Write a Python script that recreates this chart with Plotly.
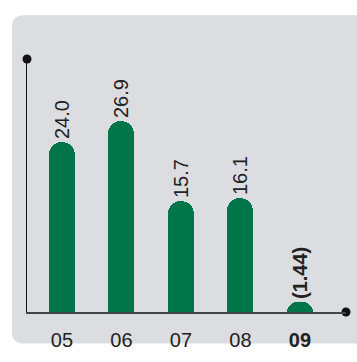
import plotly.graph_objects as go

years = ["05", "06", "07", "08", "09"]
tick_labels = ["05", "06", "07", "08", "<b>09</b>"]
values = [24.0, 26.9, 15.7, 16.1, 1.44]
value_labels = ["24.0", "26.9", "15.7", "16.1", "<b>(1.44)</b>"]

W, H = 357, 362
L, R, T, B = 27, 11, 59, 37
PW, PH = W - L - R, H - T - B

x_pos = list(range(len(years)))
x_min = -0.588
x_max = x_min + PW / 59.5
y_max = 35.7

GREEN = "#00754a"
PANEL = "#dcdde0"

fig = go.Figure()
fig.add_trace(go.Bar(
    x=x_pos, y=values, width=26 / 59.5,
    marker=dict(color=GREEN, cornerradius=13, line=dict(width=0)),
    text=value_labels, textposition="outside", textangle=-90,
    constraintext="none", cliponaxis=False,
    textfont=dict(family="Liberation Sans, Arial, sans-serif", size=20, color="#222"),
    hoverinfo="skip",
))
# axis end dots
fig.add_trace(go.Scatter(
    x=[x_min, x_max], y=[y_max, 0], mode="markers",
    marker=dict(color="#111", size=9), cliponaxis=False, hoverinfo="skip",
))

def px2paper(px, py):
    return (px - L) / PW, (H - B - py) / PH

x0, y0 = 12, 13
x1, y1 = 370, 358
r = 12
def P(x, y):
    a, b = px2paper(x, y)
    return f"{a:.5f},{b:.5f}"
path = (f"M {P(x1, y0)} L {P(x0 + r, y0)} Q {P(x0, y0)} {P(x0, y0 + r)} "
        f"L {P(x0, y1 - r)} Q {P(x0, y1)} {P(x0 + r, y1)} L {P(x1, y1)} Z")
fig.add_shape(type="path", path=path, xref="paper", yref="paper",
              fillcolor=PANEL, line=dict(width=0), layer="below")

fig.update_layout(
    width=W, height=H, margin=dict(l=L, r=R, t=T, b=B),
    paper_bgcolor="white", plot_bgcolor="rgba(0,0,0,0)",
    showlegend=False, bargap=0,
    xaxis=dict(range=[x_min, x_max], tickvals=x_pos, ticktext=tick_labels,
               showgrid=False, zeroline=False, showline=True, linecolor="#444",
               linewidth=2, ticks="", ticklabelstandoff=9,
               tickfont=dict(family="Liberation Sans, Arial, sans-serif", size=20, color="#222")),
    yaxis=dict(range=[0, y_max], showgrid=False, zeroline=False, showline=True,
               linecolor="#111", linewidth=1, showticklabels=False, ticks=""),
)

fig.write_html("out.html")
